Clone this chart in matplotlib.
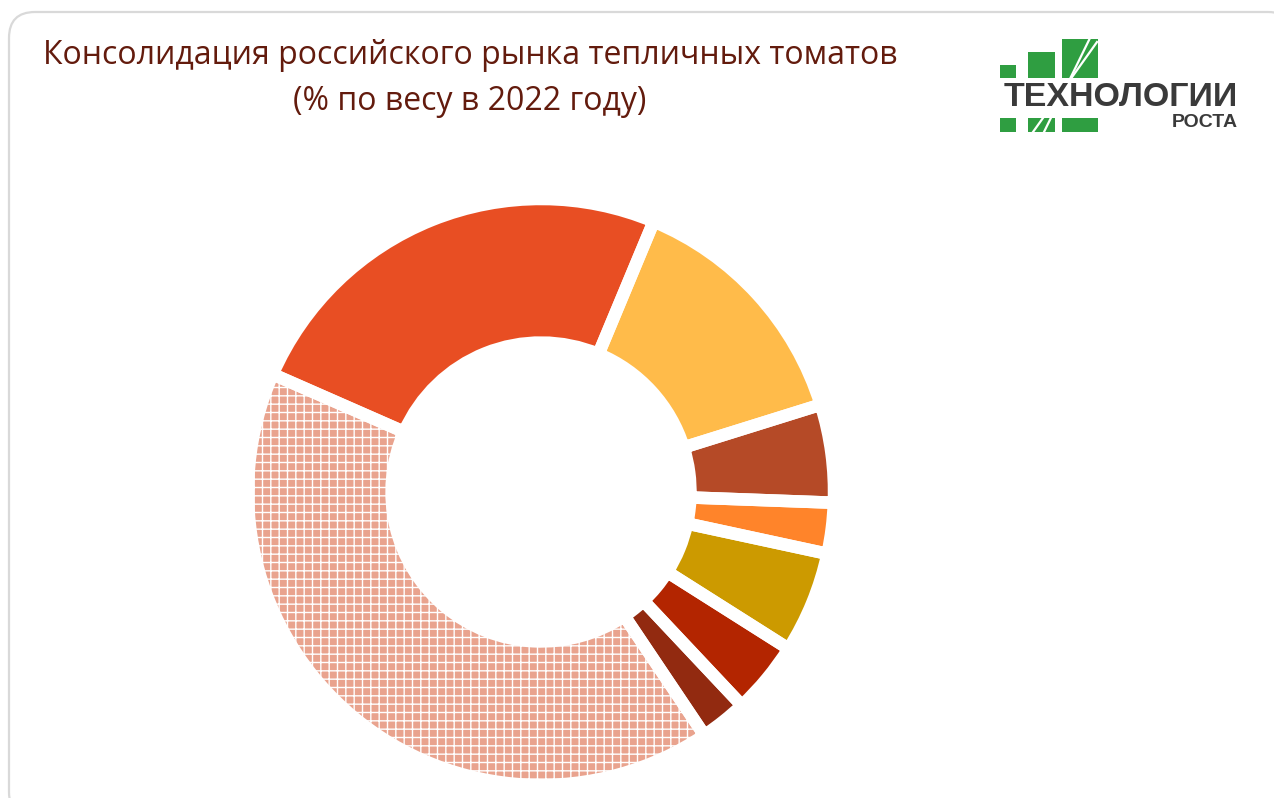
import matplotlib
matplotlib.use('Agg')
import matplotlib.pyplot as plt
from matplotlib.patches import FancyBboxPatch, Rectangle, Wedge

# market shares, % by weight (clockwise from the big red slice)
shares = [24.7, 13.9, 5.4, 2.8, 5.6, 4.0, 2.6, 41.0]
colors = ['#E84E23', '#FFBB4A', '#B54A27', '#FF842A', '#CC9A00', '#B32500', '#922A10', '#E9A38E']
textured = [False, False, False, False, False, False, False, True]

title_lines = ['Консолидация российского рынка тепличных томатов', '(% по весу в 2022 году)']
logo_big = 'ТЕХНОЛОГИИ'
logo_small = 'РОСТА'

W, H = 1274, 798
fig = plt.figure(figsize=(W / 100, H / 100), dpi=100)
ax = fig.add_axes([0, 0, 1, 1])
ax.set_xlim(0, W)
ax.set_ylim(0, H)
ax.set_aspect('equal')
ax.axis('off')

# card border
card = FancyBboxPatch((9, -20), 1285, H - 12 + 20, boxstyle='round,pad=0,rounding_size=26',
                      facecolor='white', edgecolor='#D9D9D9', lw=1.6, zorder=0)
ax.add_patch(card)

# doughnut
cx, cy, R = 541, H - 492, 293
wedges, _ = ax.pie(shares, colors=colors, startangle=156.3, counterclock=False,
                   center=(cx, cy), radius=R, explode=[0.03] * len(shares),
                   wedgeprops=dict(width=R * 0.49, linewidth=0))
ax.set_xlim(0, W)
ax.set_ylim(0, H)
plt.rcParams['hatch.linewidth'] = 1.2
for w, tex in zip(wedges, textured):
    if tex:
        w.set_edgecolor('white')
        w.set_linewidth(0)
        w.set_hatch('++')
    ax.add_patch(Wedge(w.center, w.r, w.theta1, w.theta2, width=w.width,
                       fill=False, edgecolor='white', lw=9, zorder=3))

# title
for i, line in enumerate(title_lines):
    ax.text(470, H - 64 - 46 * i, line, ha='center', va='baseline', fontsize=23,
            family=['Open Sans', 'DejaVu Sans'], color='#631B0D')

# logo
green = '#2F9E41'
for x0, y0, x1, y1 in [(1000, 65, 1016, 78), (1028, 52, 1055, 78), (1062, 39, 1098, 78),
                       (1000, 118, 1016, 132), (1028, 118, 1055, 132), (1062, 118, 1098, 132)]:
    ax.add_patch(Rectangle((x0, H - y1), x1 - x0, y1 - y0, facecolor=green, lw=0, zorder=4))
ax.plot([1033, 1097], [H - 132, H - 42], color='white', lw=1.6, zorder=5)
ax.plot([1044, 1090], [H - 132, H - 38], color='white', lw=1.6, zorder=5)
ax.text(1004, H - 106, logo_big, ha='left', va='baseline', fontsize=24.5,
        family=['Liberation Sans', 'DejaVu Sans'], fontweight='bold', color='#3A3A3A', zorder=5)
ax.text(1238, H - 127, logo_small, ha='right', va='baseline', fontsize=14,
        family=['Liberation Sans', 'DejaVu Sans'], fontweight='bold', color='#3A3A3A', zorder=5)

fig.savefig('out.png', dpi=100)
